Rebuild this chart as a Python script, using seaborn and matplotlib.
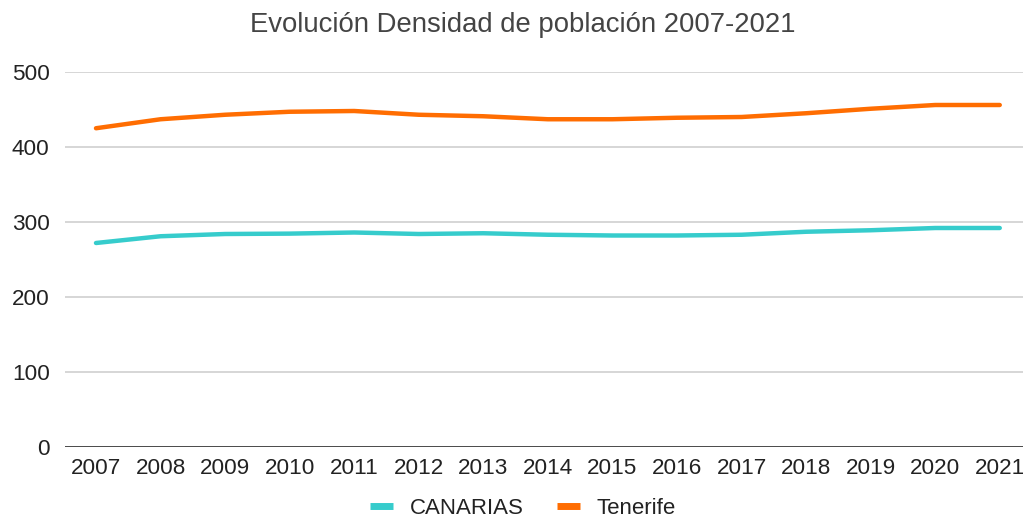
import matplotlib
matplotlib.use("Agg")
import matplotlib.pyplot as plt
import seaborn as sns
import pandas as pd
from matplotlib.lines import Line2D

years = [2007, 2008, 2009, 2010, 2011, 2012, 2013, 2014, 2015, 2016, 2017, 2018, 2019, 2020, 2021]
canarias = [272, 281, 284, 284.5, 286, 284, 285, 283, 282, 282, 283, 287, 289, 292, 292]
tenerife = [425, 437, 443, 447, 448, 443, 441, 437, 437, 439, 440, 445, 451, 456, 456]
series_names = ["CANARIAS", "Tenerife"]
colors = ["#36CCCC", "#FF6D01"]
yticks = [0, 100, 200, 300, 400, 500]

sns.set_style("white")
plt.rcParams['font.family'] = ['Liberation Sans', 'DejaVu Sans']

df = pd.DataFrame({"year": years * 2,
                   "value": canarias + tenerife,
                   "serie": [series_names[0]] * len(years) + [series_names[1]] * len(years)})

fig = plt.figure(figsize=(10.23, 5.21), dpi=100)
ax = fig.add_axes([65 / 1023, (521 - 447) / 521, 1 - 65 / 1023, (447 - 72) / 521])
sns.lineplot(data=df, x="year", y="value", hue="serie", palette=colors, linewidth=3.2,
             ax=ax, legend=False)

ax.set_xlim(2006.52, 2021.36)
ax.set_ylim(0, 500)
ax.set_yticks(yticks)
ax.set_xticks(years)
ax.set_xticklabels([str(y) for y in years])
ax.set_xlabel("")
ax.set_ylabel("")
for s in ax.spines.values():
    s.set_visible(False)
ax.grid(axis="y", color="#CCCCCC", linewidth=1.1)
ax.axhline(0, color="#333333", linewidth=1.2, zorder=3)
ax.tick_params(axis="both", length=0, labelsize=16.2, colors="#222222")
ax.tick_params(axis="x", pad=8)
ax.tick_params(axis="y", pad=11)

fig.text(523 / 1023, 1 - 25 / 521, "Evolución Densidad de población 2007-2021", ha="center", va="center",
         fontsize=19.8, color="#444444")

handles = [Line2D([0], [0], color=c, linewidth=5, solid_capstyle="butt") for c in colors]
fig.legend(handles, series_names, loc="center", bbox_to_anchor=(523 / 1023, 1 - 508 / 521), ncol=2,
           frameon=False, fontsize=16, handlelength=1.05, columnspacing=1.5, handletextpad=0.75,
           labelcolor="#222222", borderpad=0.2)

fig.savefig("out.png", dpi=100)
